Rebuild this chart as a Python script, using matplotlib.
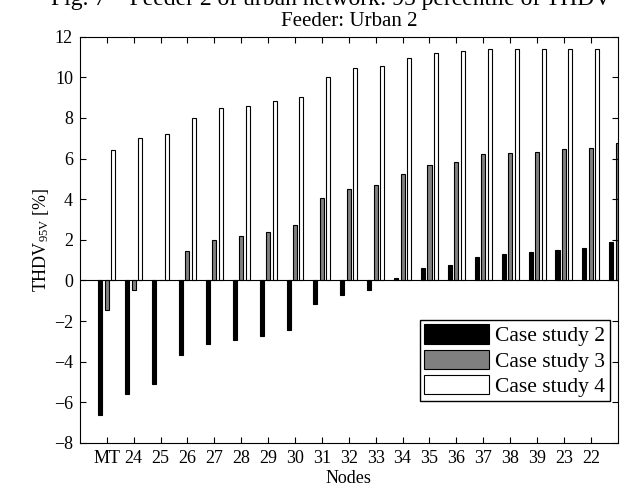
import numpy as np
import matplotlib
matplotlib.use('Agg')
import matplotlib.pyplot as plt

plt.rcParams['font.family'] = ['Liberation Serif', 'DejaVu Serif']
plt.rcParams['mathtext.fontset'] = 'custom'
plt.rcParams['mathtext.rm'] = 'Liberation Serif'
plt.rcParams['mathtext.it'] = 'Liberation Serif'

# data
nodes = ['MT', '24', '25', '26', '27', '28', '29', '30', '31', '32', '33',
         '34', '35', '36', '37', '38', '39', '23', '22']
case2 = [-6.62, -5.60, -5.12, -3.68, -3.14, -2.92, -2.71, -2.45, -1.15, -0.72,
         -0.49, 0.11, 0.61, 0.75, 1.18, 1.30, 1.39, 1.51, 1.61, 1.89]
case3 = [-1.46, -0.49, 0.0, 1.44, 1.97, 2.18, 2.41, 2.72, 4.04, 4.52,
         4.71, 5.26, 5.67, 5.83, 6.21, 6.26, 6.31, 6.49, 6.54, 6.75]
case4 = [6.40, 7.00, 7.23, 8.01, 8.49, 8.60, 8.82, 9.03, 10.03, 10.44,
         10.54, 10.95, 11.22, 11.28, 11.38, 11.38, 11.38, 11.38, 11.38, 11.38]

x = np.arange(1, len(case2) + 1)
w = 0.15
off = 0.24

fig = plt.figure(figsize=(6.24, 4.9), dpi=100)
ax = fig.add_axes([0.128, 0.096, 0.862, 0.829])

ax.bar(x - off, case2, w, color='black', edgecolor='black', lw=0.8, label='Case study 2')
ax.bar(x, case3, w, color='#808080', edgecolor='black', lw=0.8, label='Case study 3')
ax.bar(x + off, case4, w, color='white', edgecolor='black', lw=0.8, label='Case study 4')
ax.axhline(0, color='black', lw=0.8)

ax.set_xlim(0, 20)
ax.set_ylim(-8, 12)
ax.set_xticks(np.arange(1, len(nodes) + 1))
ax.set_xticklabels(nodes)
ax.set_yticks(np.arange(-8, 13, 2))
ax.tick_params(direction='in', top=True, right=True, labelsize=13, length=4, width=0.8, pad=5)
for s in ax.spines.values():
    s.set_linewidth(0.8)

ax.set_xlabel('Nodes', fontsize=13, labelpad=2)
ax.set_ylabel('THDV$_{95V}$ [%]', fontsize=13, labelpad=2)
ax.set_title('Feeder: Urban 2', fontsize=15, pad=8)

fig.text(0.53, 1.0, 'Fig. 7 \u2013 Feeder 2 of urban network: 95 percentile of THDV',
         fontsize=17, ha='center', va='center')

leg = ax.legend(loc='lower right', bbox_to_anchor=(0.985, 0.103), fontsize=15.5,
                fancybox=False, framealpha=1, edgecolor='black',
                handlelength=3.0, handleheight=1.0, borderpad=0.2,
                labelspacing=0.15, handletextpad=0.3, borderaxespad=0)
leg.get_frame().set_linewidth(1.0)

plt.savefig('out.png', dpi=100)
